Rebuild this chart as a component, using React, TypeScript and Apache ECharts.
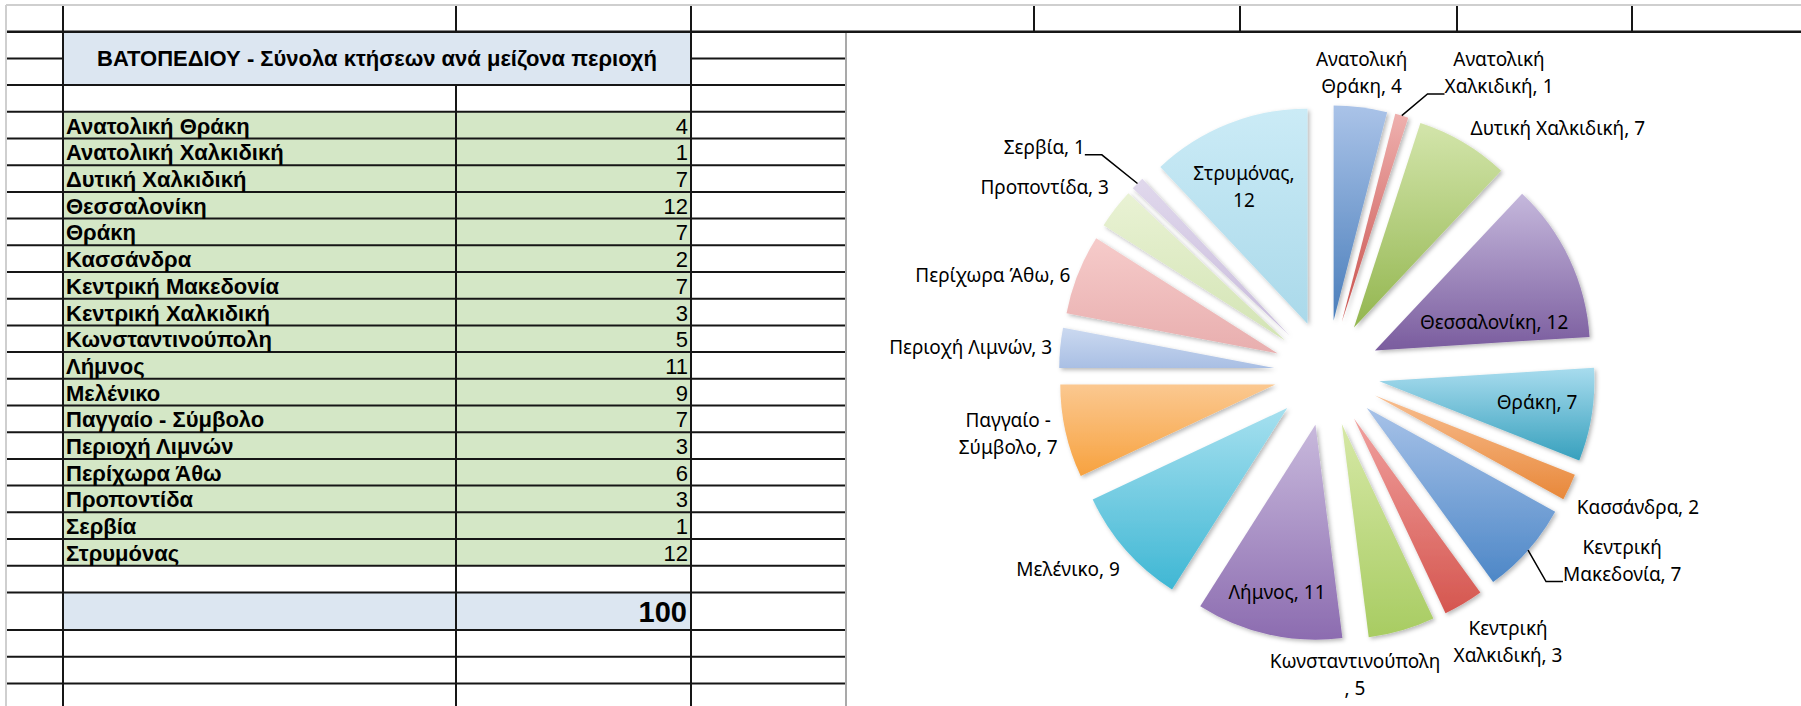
import React, { useEffect, useRef } from "react";
import * as echarts from "echarts";

// ---------- data ----------
const tableTitle = "ΒΑΤΟΠΕΔΙΟΥ - Σύνολα κτήσεων ανά μείζονα περιοχή";
const categories = [
  "Ανατολική Θράκη",
  "Ανατολική Χαλκιδική",
  "Δυτική Χαλκιδική",
  "Θεσσαλονίκη",
  "Θράκη",
  "Κασσάνδρα",
  "Κεντρική Μακεδονία",
  "Κεντρική Χαλκιδική",
  "Κωνσταντινούπολη",
  "Λήμνος",
  "Μελένικο",
  "Παγγαίο - Σύμβολο",
  "Περιοχή Λιμνών",
  "Περίχωρα Άθω",
  "Προποντίδα",
  "Σερβία",
  "Στρυμόνας",
];
const values = [4, 1, 7, 12, 7, 2, 7, 3, 5, 11, 9, 7, 3, 6, 3, 1, 12];

// ---------- styles ----------
const sliceTop = [
  "#aac3e8", "#eeb0ae", "#d3e5ab", "#c5b8dc", "#a8dcee", "#f8be90",
  "#a7c2e8", "#f0a09e", "#d6e8a6", "#c8b9dc", "#a6e0ef", "#fbc890",
  "#cbd9f0", "#f6cbca", "#e9f2d4", "#e0d8ec", "#cbebf6",
];
const sliceBottom = [
  "#4a7ebb", "#c9504c", "#93b64f", "#7a5c9e", "#37a0bd", "#e8883a",
  "#4d87c7", "#d5564f", "#a8cc62", "#8c6cb0", "#3fb7d4", "#f7a23f",
  "#a9bfe4", "#e8aeae", "#d3e4b4", "#c9bcdc", "#aad9ea",
];
type Place =
  | { kind: "in"; r: number; dth: number }
  | { kind: "out"; dx: number; dy: number; line?: boolean };
const labelPlace: Place[] = [
  { kind: "out", dx: 0, dy: 0 },
  { kind: "out", dx: 95, dy: -8, line: true },
  { kind: "out", dx: 3, dy: 6 },
  { kind: "in", r: 0.57, dth: 11.8 },
  { kind: "in", r: 0.74, dth: -1.5 },
  { kind: "out", dx: 0, dy: 3 },
  { kind: "out", dx: 29, dy: -22, line: true },
  { kind: "out", dx: -14, dy: 4 },
  { kind: "out", dx: -49, dy: 9 },
  { kind: "in", r: 0.8, dth: 0.3 },
  { kind: "out", dx: 0, dy: 0 },
  { kind: "out", dx: 0, dy: 0 },
  { kind: "out", dx: 0, dy: 0 },
  { kind: "out", dx: 0, dy: 4 },
  { kind: "out", dx: 0, dy: -3 },
  { kind: "out", dx: -47, dy: -17, line: true },
  { kind: "in", r: 0.705, dth: -3.2 },
];
const labelWrap = [
  "name", "name", "none", "none", "none", "none", "name", "name", "comma",
  "none", "none", "name", "none", "none", "none", "none", "value",
];

function labelText(name: string, value: number, mode: string) {
  if (mode === "name") {
    const k = name.lastIndexOf(" ");
    return name.slice(0, k) + "\n" + name.slice(k + 1) + ", " + value;
  }
  if (mode === "value") return name + ",\n" + value;
  if (mode === "comma") return name + "\n, " + value;
  return name + ", " + value;
}

// ---------- geometry ----------
const W = 1801;
const H = 706;
const CX = 1327;
const CY = 373;
const R = 215;
const OFF = 53;
const GAP = 8;

const ROW_H = 26.7;
const TOP = 5;
const rowY = (k: number) => TOP + ROW_H * k;
const X_LEFT = 7;
const X_B = 63;
const X_C = 456;
const X_D = 691;
const X_CHART = 846;
const topColX = [1034, 1240, 1457, 1632];
const DATA_ROW0 = 4;

const total = values.reduce((a, b) => a + b, 0);
const mids: number[] = [];
{
  let c = 0;
  values.forEach((v) => {
    mids.push(((c + v / 2) / total) * 360);
    c += v;
  });
}
const dir = (deg: number) => {
  const a = (deg * Math.PI) / 180;
  return [Math.sin(a), -Math.cos(a)];
};

const LINE = "#161616";
const TABLE_FONT = "'Liberation Sans', Arial, sans-serif";

function buildGraphic() {
  const els: any[] = [];
  const rect = (x1: number, y1: number, x2: number, y2: number, fill: string, z = 0) =>
    els.push({ type: "rect", z, silent: true, shape: { x: x1, y: y1, width: x2 - x1, height: y2 - y1 }, style: { fill } });
  const line = (x1: number, y1: number, x2: number, y2: number, stroke = LINE, lw = 2, z = 1) =>
    els.push({ type: "line", z, silent: true, shape: { x1, y1, x2, y2 }, style: { stroke, lineWidth: lw } });

  const n = categories.length;
  const totalTop = rowY(DATA_ROW0 + n + 1);
  const totalBottom = totalTop + 37.6;

  rect(X_B, rowY(1), X_D, rowY(3), "#dce6f1");
  for (let i = 0; i < n; i++) rect(X_B, rowY(DATA_ROW0 + i), X_D, rowY(DATA_ROW0 + i + 1), "#d4e7c6");
  rect(X_B, totalTop, X_D, totalBottom, "#dce6f1");

  line(X_LEFT, rowY(1), W, rowY(1), LINE, 2.4);
  line(X_LEFT, rowY(2), X_B, rowY(2));
  line(X_D, rowY(2), X_CHART, rowY(2));
  for (let k = 3; k <= DATA_ROW0 + n + 1; k++) line(X_LEFT, rowY(k), X_CHART, rowY(k));
  for (let j = 0; j < 3; j++) line(X_LEFT, totalBottom + j * ROW_H, X_CHART, totalBottom + j * ROW_H);

  line(X_B, TOP, X_B, H);
  line(X_D, TOP, X_D, H);
  line(X_C, TOP, X_C, rowY(1));
  line(X_C, rowY(3), X_C, H);
  topColX.forEach((x) => line(x, TOP, x, rowY(1)));

  line(X_LEFT - 1, TOP, W, TOP, "#cfcfcf", 2);
  line(X_LEFT - 1, TOP, X_LEFT - 1, H, "#cfcfcf", 2);

  rect(X_CHART, rowY(1) + 1.2, W, H, "#ffffff", 1.2);
  line(X_CHART, rowY(1) + 1.2, X_CHART, H, "#a9a9a9", 2, 1.3);

  els.push({
    type: "text", z: 1.1, silent: true,
    style: {
      text: tableTitle, x: (X_B + X_D) / 2, y: rowY(2), align: "center", verticalAlign: "middle",
      font: `bold 22px ${TABLE_FONT}`, fill: "#000",
    },
  });
  for (let i = 0; i < n; i++) {
    const yc = rowY(DATA_ROW0 + i) + ROW_H / 2 + 1;
    els.push({
      type: "text", z: 1.1, silent: true,
      style: { text: categories[i], x: X_B + 3, y: yc, align: "left", verticalAlign: "middle", font: `bold 22px ${TABLE_FONT}`, fill: "#000" },
    });
    els.push({
      type: "text", z: 1.1, silent: true,
      style: { text: String(values[i]), x: X_D - 3, y: yc, align: "right", verticalAlign: "middle", font: `22px ${TABLE_FONT}`, fill: "#000" },
    });
  }
  els.push({
    type: "text", z: 1.1, silent: true,
    style: {
      text: String(total), x: X_D - 4, y: (totalTop + totalBottom) / 2 + 1, align: "right", verticalAlign: "middle",
      font: `bold 29px ${TABLE_FONT}`, fill: "#000",
    },
  });
  return els;
}

function labelLayout(p: any) {
  const i = p.dataIndex;
  const pl = labelPlace[i];
  const w = p.labelRect.width;
  const h = p.labelRect.height;
  const m = mids[i];
  const [ux, uy] = dir(m);
  const ax = CX + OFF * ux;
  const ay = CY + OFF * uy;
  if (pl.kind === "in") {
    const [vx, vy] = dir(m + pl.dth);
    return { x: ax + pl.r * R * vx, y: ay + pl.r * R * vy, align: "center", verticalAlign: "middle" };
  }
  const px = ax + (R + GAP) * ux;
  const py = ay + (R + GAP) * uy;
  let x = px;
  let y = py;
  if (ux > 0.3) x = px + w / 2;
  else if (ux < -0.3) x = px - w / 2;
  if (uy < -0.4) y = py - h / 2;
  else if (uy > 0.4) y = py + h / 2;
  x += pl.dx;
  y += pl.dy;
  const res: any = { x, y, align: "center", verticalAlign: "middle" };
  if (pl.line) {
    const sx = ax + R * ux;
    const sy = ay + R * uy;
    const right = x > sx;
    const ex = right ? x - w / 2 : x + w / 2;
    const ey = y + h / 2 - 6;
    const bx = right ? ex - 17 : ex + 17;
    res.labelLinePoints = [
      [sx, sy],
      [bx, ey],
      [ex, ey],
    ];
  }
  return res;
}

function buildOption(): any {
  const common = {
    type: "pie",
    center: [CX, CY],
    radius: R,
    startAngle: 90,
    clockwise: true,
    avoidLabelOverlap: false,
    silent: true,
    emphasis: { disabled: true },
  };
  return {
    animation: false,
    backgroundColor: "#ffffff",
    graphic: { elements: buildGraphic() },
    series: [
      {
        ...common,
        z: 3,
        selectedMode: "multiple",
        selectedOffset: OFF,
        label: { show: false },
        labelLine: { show: false },
        select: { itemStyle: { borderWidth: 0 } },
        data: categories.map((name, i) => ({
          name,
          value: values[i],
          selected: true,
          itemStyle: {
            color: new echarts.graphic.LinearGradient(0, 0, 0, 1, [
              { offset: 0, color: sliceTop[i] },
              { offset: 1, color: sliceBottom[i] },
            ]),
            shadowBlur: 4,
            shadowOffsetX: 2,
            shadowOffsetY: 2,
            shadowColor: "rgba(0,0,0,0.28)",
          },
        })),
      },
      {
        ...common,
        z: 4,
        itemStyle: { color: "rgba(0,0,0,0)" },
        label: {
          show: true,
          position: "outside",
          color: "#000",
          fontFamily: "'Noto Sans', sans-serif",
          fontSize: 19,
          lineHeight: 27,
          formatter: (p: any) => labelText(p.name, p.value, labelWrap[p.dataIndex]),
        },
        labelLine: { show: false, lineStyle: { color: "#000", width: 1.5 } },
        labelLayout,
        data: categories.map((name, i) => ({
          name,
          value: values[i],
          labelLine: { show: (labelPlace[i] as any).line === true },
        })),
      },
    ],
  };
}

export default function App() {
  const ref = useRef<HTMLDivElement>(null);
  useEffect(() => {
    const chart = echarts.init(ref.current!, null, { renderer: "svg" });
    chart.setOption(buildOption());
    return () => chart.dispose();
  }, []);
  return (
    <div
      ref={ref}
      style={{ position: "absolute", left: 0, top: 0, width: W, height: H, background: "#fff" }}
    />
  );
}
